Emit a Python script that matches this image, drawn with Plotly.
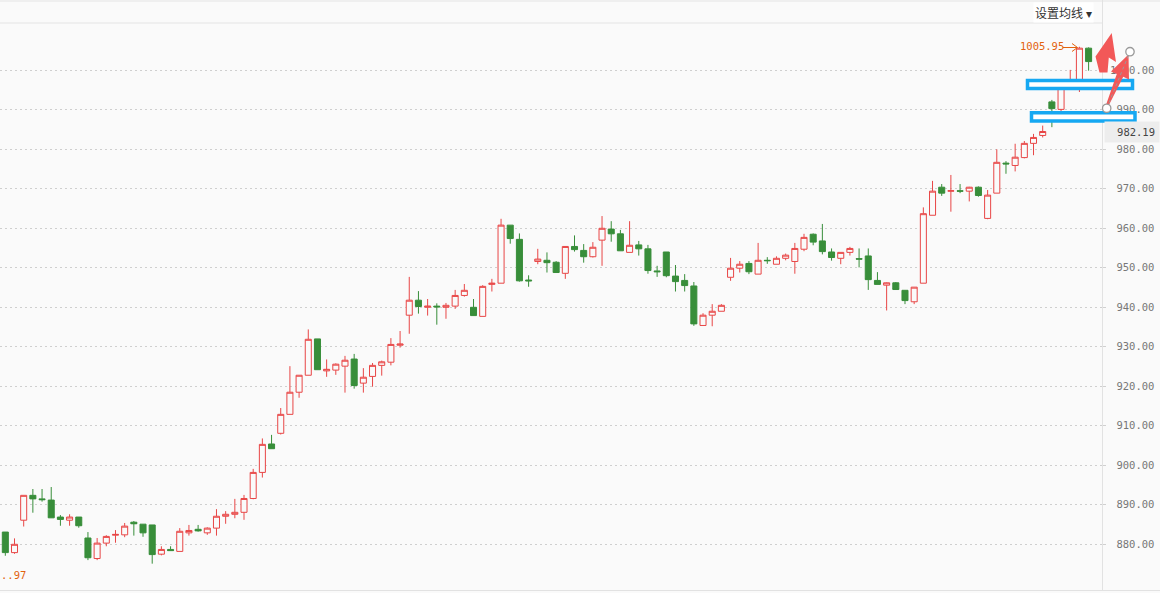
import plotly.graph_objects as go

# ---------------- data ----------------
opens = [883.1, 877.9, 886.1, 892.4, 891.5, 891.2, 886.9, 886.1, 886.9, 881.6,
         876.4, 880.3, 882.3, 882.4, 885.6, 885.1, 884.9, 877.5, 878.7, 878.2,
         882.9, 883.8, 882.9, 884.1, 887.1, 887.6, 888.1, 891.6, 898.2, 905.4,
         908.1, 912.9, 918.5, 922.8, 932.0, 923.9, 924.1, 925.1, 926.9, 920.8,
         922.5, 925.3, 926.1, 930.4, 938.0, 941.8, 940.0, 940.3, 940.0, 940.3,
         943.0, 940.0, 937.7, 945.8, 946.1, 960.8, 957.2, 946.9, 951.6, 951.9,
         951.4, 948.6, 955.4, 954.4, 952.8, 957.0, 959.8, 958.6, 953.9, 955.8,
         954.8, 949.2, 954.0, 947.9, 946.8, 945.4, 935.4, 938.0, 939.0, 947.6,
         949.9, 951.1, 948.4, 951.9, 950.9, 952.4, 951.6, 954.7, 958.5, 956.8,
         954.0, 952.4, 953.9, 952.3, 953.0, 946.8, 945.6, 946.2, 944.3, 941.4,
         946.1, 963.3, 970.4, 969.4, 969.5, 969.4, 970.4, 962.5, 968.9, 976.5,
         975.9, 977.9, 981.5, 983.5, 992.0, 990.1, 996.4, 996.5, 1005.6]
highs = [883.1, 881.5, 892.4, 894.0, 894.0, 894.5, 887.4, 887.6, 886.9, 883.1,
         881.6, 882.3, 883.6, 885.4, 885.9, 885.1, 884.9, 879.5, 879.5, 884.1,
         884.9, 884.9, 884.3, 888.9, 888.4, 891.5, 892.5, 899.1, 906.8, 907.7,
         914.5, 925.1, 922.8, 934.4, 932.0, 926.8, 925.8, 927.7, 928.2, 924.6,
         925.9, 926.5, 932.2, 934.0, 947.7, 944.1, 942.1, 941.0, 941.1, 944.4,
         945.9, 942.1, 945.6, 947.2, 962.4, 960.8, 958.7, 948.1, 954.8, 953.9,
         951.7, 955.4, 958.2, 956.0, 956.5, 963.1, 961.8, 959.6, 961.8, 956.8,
         955.8, 950.5, 954.0, 950.7, 948.4, 946.4, 938.5, 940.8, 940.8, 952.5,
         951.7, 951.7, 956.3, 952.7, 952.9, 953.6, 956.3, 958.6, 958.7, 961.1,
         954.9, 953.9, 955.3, 954.9, 954.9, 948.9, 946.3, 946.4, 944.3, 945.1,
         965.3, 972.0, 971.2, 973.5, 971.2, 970.5, 970.6, 969.7, 980.0, 977.0,
         981.4, 982.1, 983.9, 986.0, 992.5, 996.5, 1000.1, 1005.95, 1005.8]
lows = [877.1, 877.6, 884.5, 888.0, 890.8, 886.7, 884.7, 884.7, 884.2, 876.0,
        876.0, 879.5, 880.4, 881.8, 882.2, 881.9, 875.1, 877.2, 878.4, 878.2,
        882.2, 883.2, 882.4, 882.2, 885.2, 886.6, 886.2, 891.4, 896.9, 904.2,
        907.8, 912.9, 917.1, 922.8, 924.2, 922.4, 922.9, 918.4, 919.4, 918.4,
        919.9, 922.7, 925.3, 929.8, 933.3, 938.4, 937.9, 935.6, 937.1, 939.6,
        942.7, 937.9, 937.7, 944.0, 946.1, 956.1, 946.5, 945.2, 950.9, 948.8,
        948.8, 947.2, 954.1, 951.3, 952.6, 950.5, 956.6, 954.3, 953.9, 953.1,
        948.5, 947.7, 947.6, 944.0, 944.0, 935.3, 935.4, 935.2, 939.0, 946.7,
        948.8, 948.4, 948.4, 951.0, 950.9, 951.9, 948.5, 954.2, 955.7, 953.4,
        951.8, 950.9, 953.1, 950.1, 944.4, 945.8, 939.2, 944.5, 940.8, 940.8,
        946.1, 963.3, 968.2, 964.2, 968.9, 966.8, 968.0, 962.3, 968.9, 973.8,
        974.4, 977.7, 978.5, 983.0, 985.6, 989.6, 995.8, 994.5, 999.9]
closes = [877.9, 880.0, 892.4, 891.5, 891.3, 886.7, 886.3, 886.9, 884.7, 876.6,
          880.3, 882.0, 882.5, 884.6, 885.2, 882.9, 877.4, 878.7, 878.4, 883.3,
          883.5, 883.4, 884.1, 887.1, 887.6, 888.1, 891.6, 898.2, 905.3, 904.2,
          912.9, 918.5, 922.8, 931.9, 924.2, 924.3, 925.6, 926.6, 920.2, 922.3,
          925.3, 926.2, 930.6, 930.7, 941.8, 940.2, 940.3, 940.1, 940.5, 943.0,
          944.3, 937.9, 945.3, 946.1, 960.8, 957.4, 946.7, 946.7, 952.2, 951.3,
          948.8, 955.4, 954.6, 952.8, 955.2, 960.0, 958.6, 954.3, 955.7, 954.8,
          949.3, 949.0, 948.0, 946.5, 945.5, 935.8, 938.0, 939.0, 940.5, 949.9,
          950.9, 949.0, 951.9, 951.8, 952.4, 953.2, 954.9, 957.7, 956.5, 954.1,
          952.6, 953.9, 954.9, 952.2, 947.0, 945.8, 946.2, 944.5, 941.7, 945.1,
          963.7, 969.4, 968.9, 969.5, 969.4, 970.4, 968.3, 968.4, 976.7, 976.3,
          978.0, 981.5, 983.0, 984.5, 990.3, 996.5, 997.0, 1005.6, 1002.2]
x_idx = list(range(len(opens)))

y_ticks = [880, 890, 900, 910, 920, 930, 940, 950, 960, 970, 980, 990, 1000]
y_tick_labels = [("%.2f" % v).rjust(7, "\u00a0") for v in y_ticks]
max_label = "1005.95"
min_label = "..97"
price_label = "982.19"
menu_label = "设置均线 ▾"

# ---------------- layout helpers (pixel -> paper) ----------------
W, H = 1160, 593
ML, MR, MT, MB = 0, 58, 23, 2
PW, PH = W - ML - MR, H - MT - MB


def X(px):
    return (px - ML) / PW


def Y(py):
    return (H - MB - py) / PH


RED = "#e84646"
GREEN = "#388e3a"
ORANGE = "#e2620e"
BLUE = "#16a8f2"
ARROW = "#f25858"

fig = go.Figure()
fig.add_trace(go.Candlestick(
    x=x_idx, open=opens, high=highs, low=lows, close=closes,
    increasing=dict(line=dict(color=RED, width=1), fillcolor="rgba(250,250,250,1)"),
    decreasing=dict(line=dict(color=GREEN, width=1), fillcolor=GREEN),
    whiskerwidth=0, hoverinfo="skip", showlegend=False,
))

shapes = []
# frame lines
shapes.append(dict(type="line", xref="paper", yref="paper", x0=X(0), x1=X(W), y0=Y(1), y1=Y(1),
                   line=dict(color="#e4e4e4", width=1)))
shapes.append(dict(type="line", xref="paper", yref="paper", x0=X(0), x1=X(1102), y0=Y(23), y1=Y(23),
                   line=dict(color="#e4e4e4", width=1)))
shapes.append(dict(type="line", xref="paper", yref="paper", x0=X(1102.5), x1=X(1102.5), y0=Y(0), y1=Y(591),
                   line=dict(color="#e2e2e2", width=1)))
shapes.append(dict(type="line", xref="paper", yref="paper", x0=X(0), x1=X(W), y0=Y(590.5), y1=Y(590.5),
                   line=dict(color="#e2e2e2", width=1)))

# max-price arrow  (--> )
shapes.append(dict(type="line", xref="paper", yref="paper", x0=X(1063), x1=X(1077), y0=Y(47.5), y1=Y(47.5),
                   line=dict(color=ORANGE, width=1)))
shapes.append(dict(type="path", xref="paper", yref="paper",
                   path="M%f,%f L%f,%f L%f,%f" % (X(1072), Y(43.5), X(1077.5), Y(47.5), X(1072), Y(51.5)),
                   line=dict(color=ORANGE, width=1)))

# blue rectangles
shapes.append(dict(type="rect", xref="paper", yref="paper", x0=X(1027.5), x1=X(1132.5), y0=Y(80.5), y1=Y(88.5),
                   line=dict(color=BLUE, width=3.5), fillcolor="#ffffff", layer="above"))
shapes.append(dict(type="rect", xref="paper", yref="paper", x0=X(1031.5), x1=X(1135), y0=Y(112.8), y1=Y(121),
                   line=dict(color=BLUE, width=3.5), fillcolor="#ffffff", layer="above"))


def poly(pts):
    return "M" + " L".join("%f,%f" % (X(a), Y(b)) for a, b in pts) + " Z"


# red arrow 1
a1 = [(1111.7, 33.0), (1116.0, 62.0), (1108.8, 57.5), (1107.5, 72.5), (1099.5, 72.5), (1095.5, 56.5)]
shapes.append(dict(type="path", xref="paper", yref="paper", path=poly(a1), fillcolor=ARROW,
                   line=dict(width=0), layer="above"))
# red arrow 2
a2 = [(1128.5, 54.5), (1129.0, 79.5), (1123.2, 76.8), (1108.2, 106.6), (1105.8, 105.4),
      (1116.8, 74.0), (1111.0, 71.5)]
shapes.append(dict(type="path", xref="paper", yref="paper", path=poly(a2), fillcolor=ARROW,
                   line=dict(width=0), layer="above"))
# dashed connector + handles
shapes.append(dict(type="line", xref="paper", yref="paper", x0=X(1106.7), y0=Y(108.3), x1=X(1130), y1=Y(51.7),
                   line=dict(color="#9a9a9a", width=1, dash="3px,3px"), layer="above"))
for cx, cy in [(1106.7, 108.3), (1130.0, 51.7)]:
    r = 4.2
    shapes.append(dict(type="circle", xref="paper", yref="paper", x0=X(cx - r), x1=X(cx + r),
                       y0=Y(cy + r), y1=Y(cy - r), fillcolor="#ffffff",
                       line=dict(color="#9a9a9a", width=1.3), layer="above"))

annotations = [
    dict(xref="paper", yref="paper", x=X(1033), y=Y(13), xanchor="left", yanchor="middle",
         text=menu_label, showarrow=False, bgcolor="#ffffff", borderpad=1,
         font=dict(family="Noto Sans CJK SC", size=12, color="#333333")),
    dict(xref="paper", yref="paper", x=X(1018), y=Y(46), xanchor="left", yanchor="middle",
         text=max_label, showarrow=False,
         font=dict(family="DejaVu Sans Mono", size=10.5, color=ORANGE)),
    dict(xref="paper", yref="paper", x=X(-1), y=Y(574.5), xanchor="left", yanchor="middle",
         text=min_label, showarrow=False,
         font=dict(family="DejaVu Sans Mono", size=10.5, color=ORANGE)),
    dict(xref="paper", yref="paper", x=X(1104), y=Y(132), xanchor="left", yanchor="middle",
         text=price_label, showarrow=False, bgcolor="#ededed", width=46, align="right",
         borderpad=4, font=dict(family="DejaVu Sans Mono", size=10.5, color="#444444")),
]

fig.update_layout(
    width=W, height=H,
    margin=dict(l=ML, r=MR, t=MT, b=MB, pad=0),
    paper_bgcolor="#fafafa", plot_bgcolor="#fafafa",
    showlegend=False,
    boxgap=0.1, boxgroupgap=0.27,
    shapes=shapes, annotations=annotations,
    xaxis=dict(range=[-0.58, 119.46], showgrid=False, zeroline=False, showticklabels=False,
               showline=False, ticks="", rangeslider=dict(visible=False), fixedrange=True),
    yaxis=dict(side="right", range=[868.18, 1011.97], tickvals=y_ticks, ticktext=y_tick_labels,
               showgrid=True, gridcolor="#cfcfcf", griddash="2px,3px", gridwidth=1,
               zeroline=False, showline=True, linecolor="#e2e2e2", linewidth=1,
               ticks="outside", ticklen=3, tickcolor="#d0d0d0", ticklabelstandoff=2,
               tickfont=dict(family="DejaVu Sans Mono", size=10.5, color="#777777"),
               fixedrange=True),
)

fig.write_html(
    "out.html",
    config={"displayModeBar": False, "staticPlot": True},
    post_script="document.body.style.margin='0';document.body.style.overflow='hidden';"
                "document.body.style.background='#fafafa';",
)
